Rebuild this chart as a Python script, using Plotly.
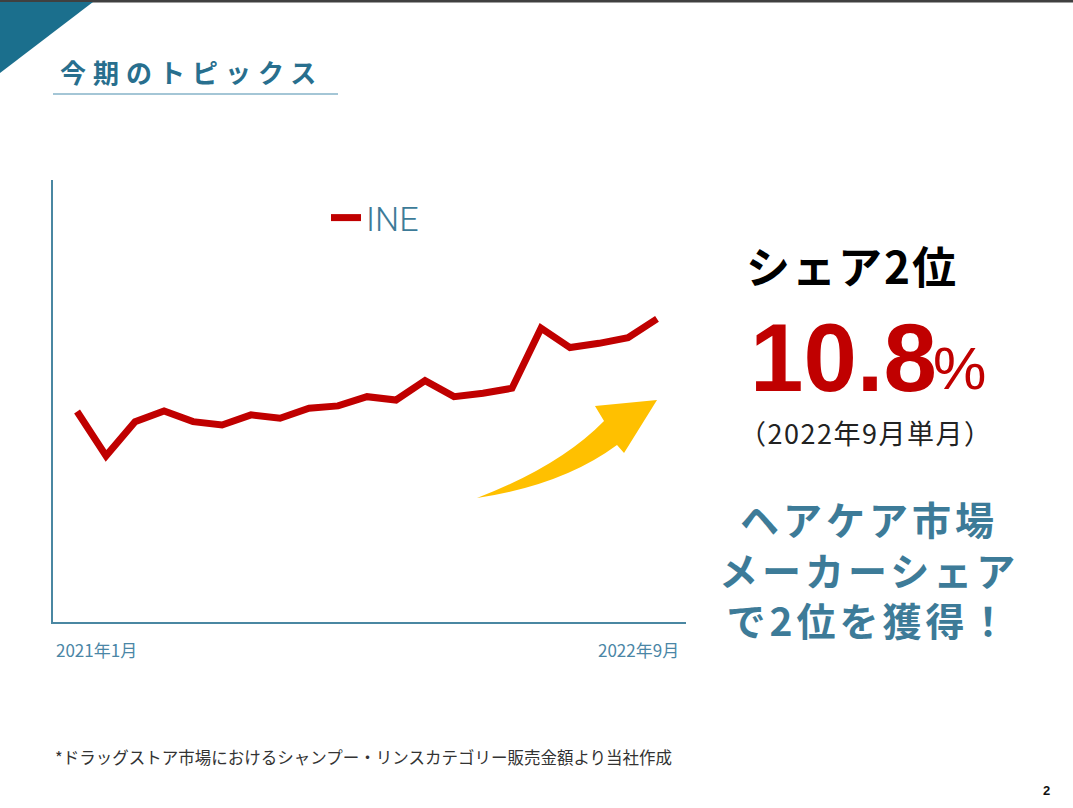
import plotly.graph_objects as go

# monthly share of INE (drugstore shampoo/rinse market)
months = ["2021年1月", "2021年2月", "2021年3月", "2021年4月", "2021年5月", "2021年6月",
          "2021年7月", "2021年8月", "2021年9月", "2021年10月", "2021年11月", "2021年12月",
          "2022年1月", "2022年2月", "2022年3月", "2022年4月", "2022年5月", "2022年6月",
          "2022年7月", "2022年8月", "2022年9月"]
share = [7.50, 5.92, 7.14, 7.52, 7.14, 7.02, 7.38, 7.26, 7.62, 7.70, 8.03, 7.91,
         8.60, 8.03, 8.15, 8.33, 10.47, 9.78, 9.93, 10.13, 10.8]
series_name = "INE"
first_label = "2021年1月"
last_label = "2022年9月"

W, H = 1073, 808
L, R, T, B = 53, 387, 180, 186

TEAL = "#3d7b98"
RED = "#c00000"
JP = "Noto Sans CJK JP"


# page pixels -> paper coords of the plot area
def px(x, y):
    return (x - L) / (W - L - R), (H - B - y) / (H - T - B)


def path(points):
    out = []
    for cmd, *xy in points:
        s = cmd
        for i in range(0, len(xy), 2):
            a, b = px(xy[i], xy[i + 1])
            s += f"{a:.4f},{b:.4f} "
        out.append(s.strip())
    return " ".join(out) + " Z"


fig = go.Figure()
fig.add_trace(go.Scatter(x=months, y=share, mode="lines", name=series_name,
                         line=dict(color=RED, width=7), showlegend=True))

shapes = []
# dark bar at the very top
x0, y0 = px(0, 0)
x1, y1 = px(W, 2.5)
shapes.append(dict(type="rect", xref="paper", yref="paper", x0=x0, y0=y0, x1=x1, y1=y1,
                   fillcolor="#404040", line=dict(width=0), layer="above"))
# teal corner triangle
shapes.append(dict(type="path", xref="paper", yref="paper",
                   path=path([("M", 0, 2), ("L", 93, 2), ("L", 0, 73)]),
                   fillcolor="#1b6f8d", line=dict(width=0)))
# title underline
ux0, uy = px(53, 94)
ux1, _ = px(338, 94)
shapes.append(dict(type="line", xref="paper", yref="paper", x0=ux0, y0=uy, x1=ux1, y1=uy,
                   line=dict(color="#86b3c8", width=1.5)))
# yellow arrow
shapes.append(dict(type="path", xref="paper", yref="paper",
                   path=path([("M", 477, 498), ("Q", 560, 466, 604, 421), ("L", 595, 406),
                              ("L", 657, 400), ("L", 624, 453), ("L", 617, 445),
                              ("Q", 563, 485, 477, 498)]),
                   fillcolor="#ffc000", line=dict(width=0)))

ann = []


def text(x, y, s, size, color, bold=False, family=JP, xanchor="left", spacing=0):
    ax, ay = px(x, y)
    if spacing:
        s = f'<span style="letter-spacing:{spacing}px">{s}</span>'
    if bold:
        s = f"<b>{s}</b>"
    ann.append(dict(x=ax, y=ay, xref="paper", yref="paper", text=s, showarrow=False,
                    xanchor=xanchor, yanchor="middle", align="center",
                    font=dict(family=family, size=size, color=color)))


text(58, 72, "今期のトピックス", 26, "#286f8e", bold=True, spacing=7)
text(54, 649, first_label, 17, "#4a86a6")
text(681, 649, last_label, 17, "#4a86a6", xanchor="right")
text(744, 265, "シェア2位", 44, "#000000", bold=True, spacing=2)
text(748, 357, "10.8", 96, RED, bold=True, family="Liberation Sans")
text(931, 368, "%", 60, RED, family="Liberation Sans")
text(737, 432, "（2022年9月単月）", 27, "#222222", spacing=1.5)
text(869, 568, "ヘアケア市場<br>メーカーシェア<br>で2位を獲得！", 39, TEAL, bold=True,
     xanchor="center", spacing=4)
text(53, 757, "*ドラッグストア市場におけるシャンプー・リンスカテゴリー販売金額より当社作成", 16.5, "#333333")
text(1052, 790, "2", 13, "#111111", bold=True, family="Liberation Sans", xanchor="right")

lx, ly = px(326, 189)
fig.update_layout(
    width=W, height=H,
    margin=dict(l=L, r=R, t=T, b=B),
    paper_bgcolor="white", plot_bgcolor="white",
    shapes=shapes, annotations=ann,
    showlegend=True,
    legend=dict(x=lx, y=ly, xanchor="left", yanchor="top", bgcolor="rgba(0,0,0,0)",
                font=dict(family="Roboto", size=34, color=TEAL, weight=300)),
    xaxis=dict(range=[-0.83, 21.0], showline=True, linecolor="#4a87a2", linewidth=2,
               showgrid=False, zeroline=False, showticklabels=False, ticks=""),
    yaxis=dict(range=[0, 15.75], showline=True, linecolor="#4a87a2", linewidth=2,
               showgrid=False, zeroline=False, showticklabels=False, ticks=""),
)

# drop the page's default body margin so the figure sits at the top-left corner
fig.write_html("out.html", config={"displayModeBar": False},
               post_script="document.body.style.margin='0';")
